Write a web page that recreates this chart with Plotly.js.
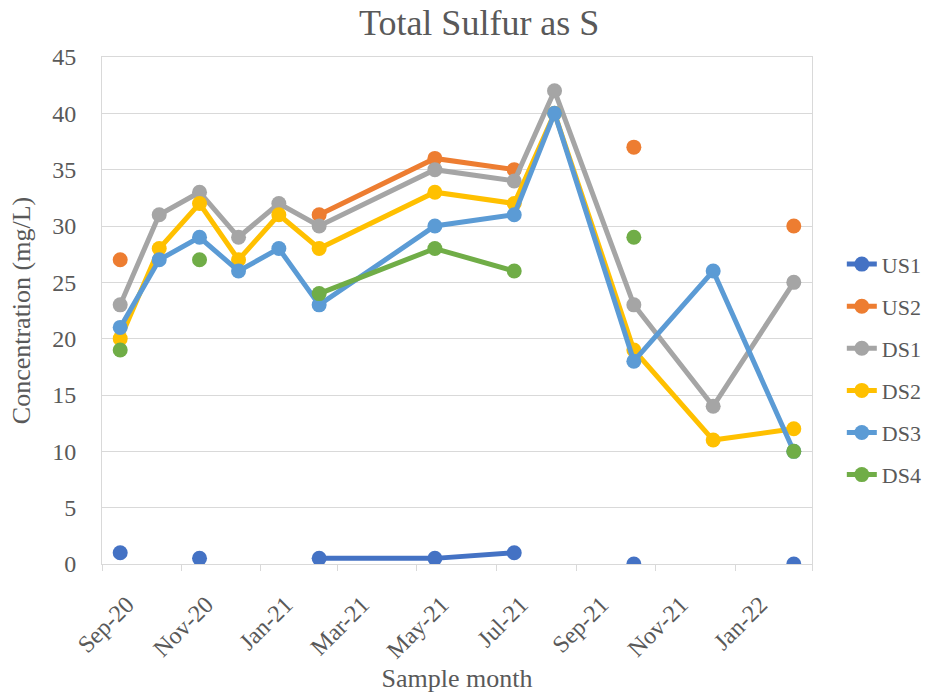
<!DOCTYPE html>
<html>
<head>
<meta charset="utf-8">
<script src="https://cdn.plot.ly/plotly-3.0.1.min.js"></script>
<style>html,body{margin:0;padding:0;background:#fff;}#chart{width:934px;height:695px;}</style>
</head>
<body>
<div id="chart"></div>
<script>
var sampleDates = ['2020-09-15','2020-10-15','2020-11-15','2020-12-15','2021-01-15','2021-02-15','2021-05-15','2021-07-15','2021-08-15','2021-10-15','2021-12-15','2022-02-15'];
var US1 = [1, null, 0.5, null, null, 0.5, 0.5, 1, null, 0, null, 0];
var US2 = [27, null, null, null, null, 31, 36, 35, null, 37, null, 30];
var DS1 = [23, 31, 33, 29, 32, 30, 35, 34, 42, 23, 14, 25];
var DS2 = [20, 28, 32, 27, 31, 28, 33, 32, 40, 19, 11, 12];
var DS3 = [21, 27, 29, 26, 28, 23, 30, 31, 40, 18, 26, 10];
var DS4 = [19, null, 27, null, null, 24, 28, 26, null, 29, null, 10];

var tickDates = ['2020-09-01','2020-11-01','2021-01-01','2021-03-01','2021-05-01','2021-07-01','2021-09-01','2021-11-01','2022-01-01','2022-03-01'];
var tickLabels = ['Sep-20','Nov-20','Jan-21','Mar-21','May-21','Jul-21','Sep-21','Nov-21','Jan-22',''];

var seriesNames = ['US1','US2','DS1','DS2','DS3','DS4'];
var seriesData = [US1, US2, DS1, DS2, DS3, DS4];
var seriesColors = ['#4472C4','#ED7D31','#A5A5A5','#FFC000','#5B9BD5','#70AD47'];

var traces = seriesNames.map(function(n, i){
  return {
    x: sampleDates, y: seriesData[i], name: n, type: 'scatter', mode: 'lines+markers',
    connectgaps: false, legendgroup: n,
    line: {color: seriesColors[i], width: 5},
    marker: {color: seriesColors[i], size: 15}
  };
});

var font = '"Liberation Serif", "Times New Roman", serif';
var layout = {
  width: 934, height: 695,
  margin: {l: 102, r: 122, t: 57, b: 131, autoexpand: false},
  paper_bgcolor: '#fff', plot_bgcolor: '#fff',
  font: {family: font, color: '#595959', size: 24},
  title: {text: 'Total Sulfur as S', font: {family: font, size: 36, color: '#595959'}, x: 0.513, xref: 'container', xanchor: 'center', y: 0.968, yref: 'container', yanchor: 'middle'},
  xaxis: {
    type: 'date', range: ['2020-09-01','2022-03-01'],
    tickmode: 'array', tickvals: tickDates, ticktext: tickLabels,
    tickangle: -45, ticks: 'outside', ticklen: 6, tickcolor: '#d9d9d9', tickwidth: 1,
    ticklabelshift: 25, ticklabelstandoff: 10,
    showgrid: false, showline: true, linecolor: '#d9d9d9', linewidth: 1, mirror: true,
    zeroline: false, tickfont: {family: font, size: 24, color: '#595959'},
    title: {text: 'Sample month', font: {family: font, size: 26, color: '#595959'}, standoff: 2}
  },
  yaxis: {
    range: [0, 45], tickmode: 'array', tickvals: [0,5,10,15,20,25,30,35,40,45],
    showgrid: true, gridcolor: '#d9d9d9', gridwidth: 1,
    showline: true, linecolor: '#d9d9d9', linewidth: 1, mirror: true,
    zeroline: false, ticks: '', ticklabelstandoff: 20,
    tickfont: {family: font, size: 24, color: '#595959'},
    title: {text: 'Concentration (mg/L)', font: {family: font, size: 26, color: '#595959'}, standoff: 14}
  },
  showlegend: true,
  legend: {
    x: 1.042, xanchor: 'left', y: 0.383, yanchor: 'middle',
    font: {family: font, size: 22, color: '#595959'}, traceorder: 'grouped', tracegroupgap: 10.5,
    bgcolor: 'rgba(0,0,0,0)'
  }
};

Plotly.newPlot('chart', traces, layout, {displayModeBar: false, staticPlot: true});
</script>
</body>
</html>
